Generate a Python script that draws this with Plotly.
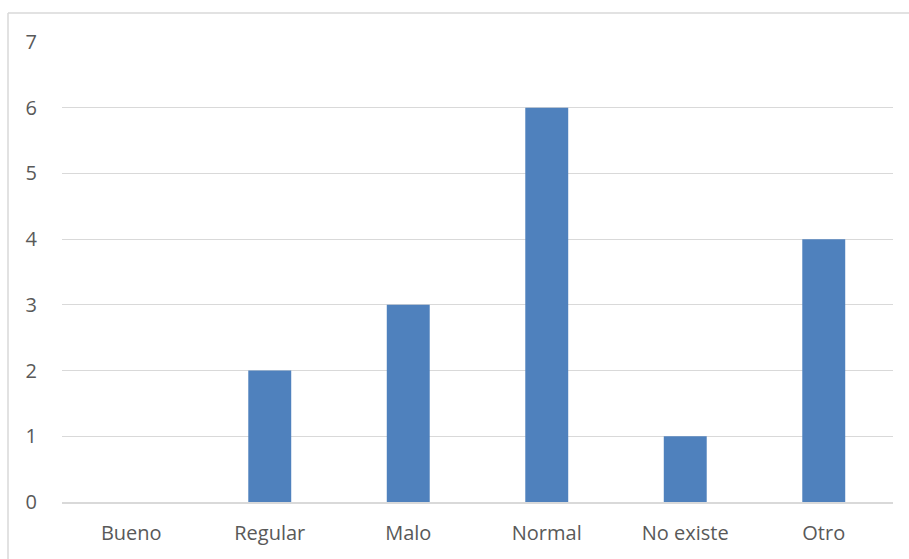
import plotly.graph_objects as go

categories = ["Bueno", "Regular", "Malo", "Normal", "No existe", "Otro"]
values = [0, 2, 3, 6, 1, 4]
y_ticks = [0, 1, 2, 3, 4, 5, 6, 7]

W, H = 909, 559
L, R, T, B = 62, 16, 42, 57
pw, ph = W - L - R, H - T - B

def px_to_paper_x(px):
    return (px - L) / pw

def px_to_paper_y(py):
    return (H - B - py) / ph

fig = go.Figure(
    go.Bar(
        x=categories,
        y=values,
        marker=dict(color="#4F81BD", line=dict(width=0)),
        hoverinfo="x+y",
    )
)

font = dict(family="'Open Sans', sans-serif", size=20, color="#595959")

fig.update_layout(
    width=W,
    height=H,
    margin=dict(l=L, r=R, t=T, b=B),
    paper_bgcolor="white",
    plot_bgcolor="white",
    bargap=0.69,
    showlegend=False,
    font=font,
    xaxis=dict(
        showgrid=False,
        showline=True,
        linecolor="#D9D9D9",
        linewidth=1.5,
        ticks="",
        ticklabelstandoff=12,
        tickfont=font,
    ),
    yaxis=dict(
        range=[0, 7],
        tickvals=y_ticks,
        showgrid=True,
        gridcolor="#D9D9D9",
        gridwidth=1,
        zeroline=False,
        showline=False,
        ticks="",
        ticklabelstandoff=24,
        tickfont=font,
    ),
    shapes=[
        # chart frame (top and left edges)
        dict(type="line", xref="paper", yref="paper",
             x0=px_to_paper_x(8), x1=px_to_paper_x(W + 5),
             y0=px_to_paper_y(13), y1=px_to_paper_y(13),
             line=dict(color="#D9D9D9", width=1.5)),
        dict(type="line", xref="paper", yref="paper",
             x0=px_to_paper_x(8), x1=px_to_paper_x(8),
             y0=px_to_paper_y(13), y1=px_to_paper_y(H + 5),
             line=dict(color="#D9D9D9", width=1.5)),
    ],
)

fig.write_html("out.html")
